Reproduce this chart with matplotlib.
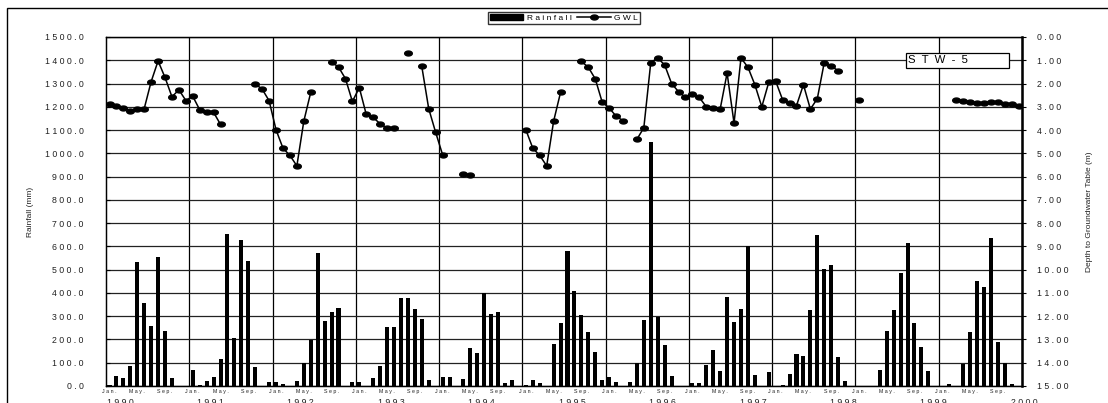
import numpy as np
import matplotlib
matplotlib.use("Agg")
import matplotlib.pyplot as plt
from matplotlib.path import Path
from matplotlib.patches import Rectangle
from matplotlib.lines import Line2D

plt.rcParams['font.family'] = ['Liberation Sans', 'DejaVu Sans']

# monthly rainfall (mm), Jan 1990 .. Dec 2000
rain_1990 = [3, 45, 33, 86, 533, 355, 259, 555, 236, 36, 0, 0]
rain_1991 = [69, 3, 23, 40, 117, 655, 205, 627, 536, 80, 0, 18]
rain_1992 = [17, 9, 0, 21, 100, 197, 573, 279, 316, 337, 0, 16]
rain_1993 = [16, 0, 33, 84, 254, 254, 379, 377, 329, 287, 24, 0]
rain_1994 = [39, 40, 0, 30, 163, 140, 400, 309, 317, 14, 24, 0]
rain_1995 = [5, 26, 12, 0, 180, 271, 581, 409, 304, 231, 146, 27]
rain_1996 = [40, 19, 0, 19, 100, 285, 1050, 298, 175, 41, 0, 0]
rain_1997 = [11, 11, 90, 154, 63, 383, 277, 330, 603, 46, 0, 60]
rain_1998 = [0, 5, 50, 137, 129, 326, 648, 501, 521, 126, 23, 0]
rain_1999 = [0, 0, 0, 70, 237, 327, 486, 613, 269, 166, 66, 0]
rain_2000 = [1, 9, 0, 93, 231, 451, 426, 635, 191, 99, 9, 0]

# depth to groundwater table (m), NaN = no reading
nan = np.nan
gwl_1990 = [2.90, 2.98, 3.06, 3.16, 3.08, 3.08, 1.92, 1.03, 1.74, 2.57, 2.27, 2.73]
gwl_1991 = [2.55, 3.13, 3.24, 3.24, 3.76, nan, nan, nan, nan, 2.02, 2.24, 2.74]
gwl_1992 = [3.99, 4.78, 5.09, 5.54, 3.62, 2.38, nan, nan, 1.08, 1.29, 1.79, 2.77]
gwl_1993 = [2.18, 3.33, 3.46, 3.73, 3.92, 3.89, nan, 0.69, nan, 1.26, 3.08, 4.10]
gwl_1994 = [5.06, nan, nan, 5.88, 5.95, nan, nan, nan, nan, nan, nan, nan]
gwl_1995 = [3.99, 4.78, 5.09, 5.54, 3.62, 2.38, nan, nan, 1.05, 1.30, 1.80, 2.80]
gwl_1996 = [3.05, 3.40, 3.60, nan, 4.40, 3.90, 1.10, 0.90, 1.20, 2.00, 2.35, 2.60]
gwl_1997 = [2.45, 2.60, 3.00, 3.05, 3.10, 1.55, 3.70, 0.90, 1.30, 2.05, 3.00, 1.95]
gwl_1998 = [1.90, 2.70, 2.85, 2.95, 2.05, 3.10, 2.65, 1.10, 1.25, 1.45, nan, nan]
gwl_1999 = [2.70, nan, nan, nan, nan, nan, nan, nan, nan, nan, nan, nan]
gwl_2000 = [nan, nan, 2.70, 2.75, 2.80, 2.85, 2.85, 2.78, 2.80, 2.88, 2.90, 2.95]

years = list(range(1990, 2001))
month_ticks = ['Jan.', 'May.', 'Sep.']

rain = np.array(rain_1990 + rain_1991 + rain_1992 + rain_1993 + rain_1994 + rain_1995
                + rain_1996 + rain_1997 + rain_1998 + rain_1999 + rain_2000, dtype=float)
gwl = np.array(gwl_1990 + gwl_1991 + gwl_1992 + gwl_1993 + gwl_1994 + gwl_1995
               + gwl_1996 + gwl_1997 + gwl_1998 + gwl_1999 + gwl_2000, dtype=float)
months = np.arange(len(rain))


def spaced(s):
    return ' '.join(s)


fig = plt.figure(figsize=(11.08, 4.03), dpi=100)
ax = fig.add_axes([0.0957, 0.0422, 0.8267, 0.866])
ax2 = ax.twinx()

ax.bar(months, rain, width=0.58, color='black', zorder=3)
ax.set_xlim(-0.5, len(rain) - 0.5)
ax.set_ylim(0, 1500)
ax.set_yticks(np.arange(0, 1501, 100))
ax.set_yticklabels([spaced(f"{v:.1f}") for v in np.arange(0, 1501, 100)], fontsize=6.3, color='#222')
ax.tick_params(axis='y', direction='in', length=3, width=0.8, pad=16)
ax.set_ylabel('Rainfall (mm)', fontsize=6, labelpad=8, color='#222')
ax.grid(axis='y', color='#222', lw=0.9, zorder=0)
for k in range(1, len(years)):
    ax.axvline(12 * k - 0.5, color='black', lw=0.9, zorder=1)

xt = [12 * k + m for k in range(len(years)) for m in (0, 4, 8)]
ax.set_xticks(xt)
ax.set_xticklabels([spaced(month_ticks[j % 3]) for j in range(len(xt))], fontsize=3.8, color='#222')
ax.tick_params(axis='x', length=0, pad=2)

for k, yr in enumerate(years):
    ax.text(0.0153 + k * 0.0987, -0.033, spaced(str(yr)), transform=ax.transAxes,
            ha='center', va='top', fontsize=6.3, color='#222')

# groundwater level on inverted right axis
t = np.linspace(0, 2 * np.pi, 41)
ellipse = Path(np.c_[1.55 * np.cos(t), np.sin(t)])
ax2.plot(months, gwl, color='black', lw=1.1, marker=ellipse, ms=5.5, zorder=4)
ax2.set_ylim(15, 0)
ax2.set_yticks(np.arange(0, 16, 1))
ax2.set_yticklabels([spaced(f"{v:.2f}") for v in np.arange(0, 16, 1)], fontsize=6.3, color='#222')
ax2.tick_params(axis='y', direction='out', length=3, width=0.8, pad=8)
ax2.set_ylabel('Depth to Groundwater Table (m)', fontsize=6, labelpad=12, color='#222')

for a in (ax, ax2):
    for s in a.spines.values():
        s.set_linewidth(0.9)
ax2.spines['right'].set_linewidth(1.8)

# well name box
ax2.add_patch(Rectangle((0.873, 0.911), 0.113, 0.043, transform=ax2.transAxes,
                        facecolor='white', edgecolor='black', lw=0.9, zorder=6))
ax2.text(0.876, 0.933, 'S  T  W  -  5', transform=ax2.transAxes, ha='left', va='center',
         fontsize=8.2, zorder=7)

handles = [Rectangle((0, 0), 1, 1, color='black'),
           Line2D([], [], color='black', lw=1.1, marker=ellipse, ms=5.5)]
fig.legend(handles, [spaced('Rainfall'), spaced('GWL')], loc='center',
           bbox_to_anchor=(0.509, 0.955), ncol=2, fontsize=6, frameon=True,
           fancybox=False, edgecolor='black', borderpad=0.25, handlelength=4.0,
           handletextpad=0.4, columnspacing=0.7, handleheight=0.8)

# outer chart border
fig.patches.append(Rectangle((7 / 1108, -0.1), 1.2, 1 - 8 / 403 + 0.1, transform=fig.transFigure,
                             fill=False, edgecolor='black', lw=1.0))

fig.savefig('out.png', dpi=100)
